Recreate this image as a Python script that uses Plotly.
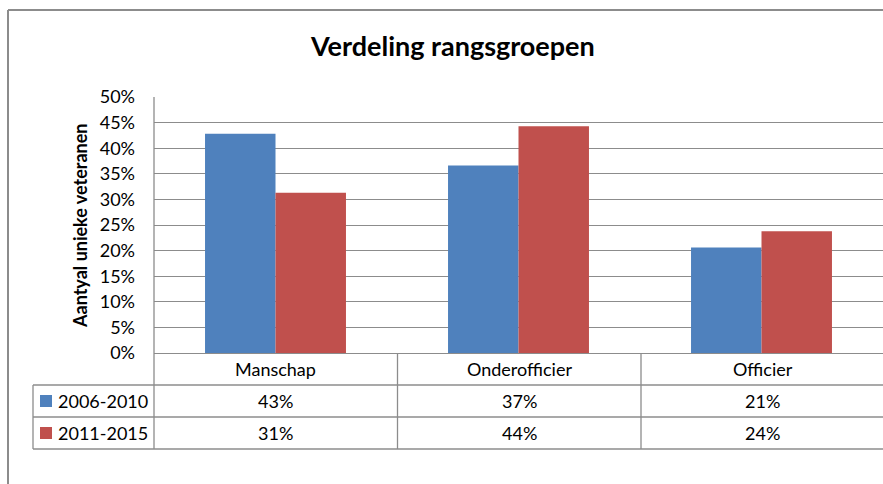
import plotly.graph_objects as go

categories = ["Manschap", "Onderofficier", "Officier"]
series_names = ["2006-2010", "2011-2015"]
values_2006_2010 = [0.428, 0.366, 0.206]
values_2011_2015 = [0.313, 0.443, 0.238]
table_2006_2010 = ["43%", "37%", "21%"]
table_2011_2015 = ["31%", "44%", "24%"]
colors = ["#4F81BD", "#C0504D"]

W, H = 883, 484
L, R, T, B = 154, 883, 97, 353
FONT = "Lato, Carlito, Calibri, sans-serif"
GRID = "#8c8c8c"

def px(x):
    return (x - L) / (R - L)

def py(y):
    return (B - y) / (B - T)

fig = go.Figure()
for name, vals, col in zip(series_names, [values_2006_2010, values_2011_2015], colors):
    fig.add_trace(go.Bar(x=categories, y=vals, name=name, marker_color=col,
                         marker_line_width=0, showlegend=False))

shapes = []
def line(x0, y0, x1, y1, w=1.3):
    shapes.append(dict(type="line", xref="paper", yref="paper",
                       x0=px(x0), y0=py(y0), x1=px(x1), y1=py(y1),
                       line=dict(color=GRID, width=w)))

# outer chart border
line(8, 10, 8, H + 5, 2)
line(8, 10, W + 5, 10, 2)
# table
line(154, 97, 154, 449)
line(33, 385, W + 5, 385)
line(33, 417, W + 5, 417)
line(33, 449, W + 5, 449)
line(33, 385, 33, 449)
for xb in [397.5, 641]:
    line(xb, 353, xb, 449)

TXT = dict(size=18, family=FONT, color="#000")
annotations = []
cat_x = [(154 + 397.5) / 2, (397.5 + 641) / 2, (641 + 884) / 2]
for i, c in enumerate(categories):
    for txt, yc in [(c, 369), (table_2006_2010[i], 401), (table_2011_2015[i], 433)]:
        annotations.append(dict(text=txt, x=px(cat_x[i]), y=py(yc), xref="paper", yref="paper",
                                xanchor="center", yanchor="middle", showarrow=False, font=TXT))

for j, (name, col) in enumerate(zip(series_names, colors)):
    yc = 401 + 32 * j
    shapes.append(dict(type="rect", xref="paper", yref="paper",
                       x0=px(40), x1=px(52), y0=py(yc - 6), y1=py(yc + 6),
                       fillcolor=col, line=dict(width=0)))
    annotations.append(dict(text=name, x=px(56), y=py(yc), xref="paper", yref="paper",
                            xanchor="left", yanchor="middle", showarrow=False, font=TXT))

annotations.append(dict(text="<b>Verdeling rangsgroepen</b>", x=px(452), y=py(45),
                        xref="paper", yref="paper", xanchor="center", yanchor="middle",
                        showarrow=False, font=dict(size=27, family=FONT, color="#000")))
annotations.append(dict(text="<b>Aantyal unieke veteranen</b>", x=px(80), y=py(226),
                        xref="paper", yref="paper", xanchor="center", yanchor="middle",
                        showarrow=False, textangle=-90,
                        font=dict(size=18, family=FONT, color="#000")))

fig.update_layout(
    width=W, height=H,
    margin=dict(l=L, r=W - R, t=T, b=H - B, autoexpand=False),
    paper_bgcolor="white", plot_bgcolor="white",
    barmode="group", bargap=0.42, bargroupgap=0,
    shapes=shapes, annotations=annotations,
    xaxis=dict(showticklabels=False, showgrid=False, showline=True, linecolor=GRID,
               linewidth=1.3, ticks="", range=[-0.5, 2.5]),
    yaxis=dict(range=[0, 0.5], tick0=0, dtick=0.05, tickformat=".0%",
               showgrid=True, gridcolor=GRID, gridwidth=1.3, zeroline=False,
               showline=False, ticks="", ticklen=0, ticklabelstandoff=18,
               tickfont=dict(size=18, family=FONT, color="#000")),
)

fig.write_html("out.html", config={"displayModeBar": False},
               post_script="document.body.style.margin='0';")
